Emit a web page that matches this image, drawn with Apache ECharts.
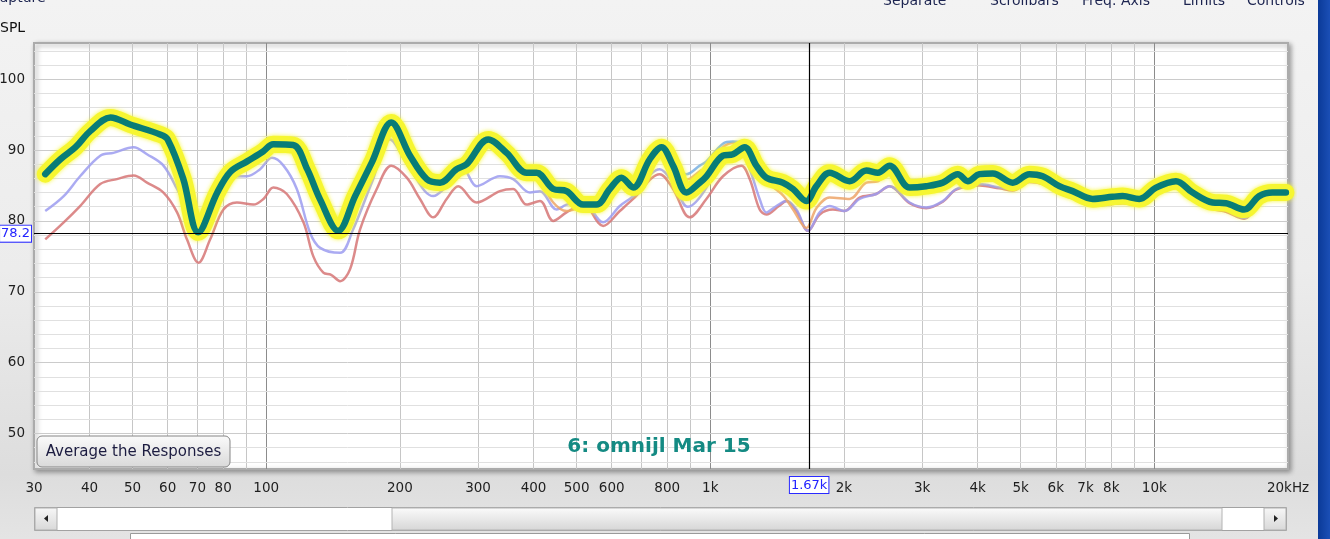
<!DOCTYPE html>
<html><head><meta charset="utf-8">
<script src="https://cdn.jsdelivr.net/npm/echarts@6/dist/echarts.min.js"></script>
<style>
html,body{margin:0;padding:0;width:1330px;height:539px;overflow:hidden;background:#ececec;}
#chart{width:1330px;height:539px;}
</style></head><body><div id="chart"></div>
<script>
// ---- data (frequency in Hz, SPL in dB) ----
const tealFreq = [31.8,34.4,37.2,40.2,44.6,49.4,57.7,60,65,70.3,77.6,83,90.6,98.4,103.7,115,123.7,132.3,145.3,158.6,173.1,191.3,210.8,229.9,246.3,268.5,282.8,316.3,347.9,385.9,406.4,443,474.7,517.4,554.5,593.9,631.1,670.5,730.8,776.6,824.6,884,947,980.4,1068,1125,1195,1270,1338,1458,1536,1646,1734,1857,2060,2246,2385,2534,2811,3064,3340,3609,3801,4039,4328,4800,5232,5606,6112,6549,7263,8055,8484,9250,10090,11188,12195,13526,14497,15937,17226,18455,19785];
const tealSpl = [86.6,88.7,90.4,92.7,94.6,93.6,92.2,91.5,86.0,78.4,84.0,86.9,88.4,89.8,90.8,90.7,87.3,83.0,78.6,83.5,88.3,93.9,89.2,85.9,85.4,87.3,88.0,91.5,89.6,86.8,86.8,84.5,84.2,82.3,82.3,84.5,86.1,84.7,88.7,90.4,87.8,84.0,85.4,86.3,89.2,89.4,90.4,87.8,86.1,85.4,84.5,82.8,84.9,86.8,85.6,87.1,86.8,87.8,84.7,84.9,85.4,86.6,85.6,86.6,86.7,85.4,86.6,86.3,84.9,84.2,83.1,83.4,83.5,83.1,84.7,85.6,84.0,82.6,82.5,81.6,83.5,84.0,84.0];
const orangeSpl = [86.4,88.5,90.2,92.4,94.3,93.3,91.9,91.2,85.7,78.3,83.7,86.6,88.1,89.5,90.5,90.4,87.0,82.7,78.4,83.2,88.0,93.6,88.9,85.6,85.1,87.0,87.7,91.2,89.3,86.5,86.3,82.6,81.4,82.0,82.4,84.2,85.8,84.6,88.5,90.2,87.9,85.8,87.0,87.6,90.4,91.0,90.8,87.8,85.6,83.6,81.6,79.0,81.8,83.3,83.1,85.4,85.6,86.9,84.2,84.4,85.0,86.2,85.2,86.2,86.3,85.0,86.2,85.9,84.5,83.8,82.7,83.0,83.1,82.7,84.3,85.2,83.6,82.2,82.1,81.1,83.1,83.6,83.6];
const lightBlueSpl = [86.8,88.9,90.6,92.9,94.8,93.8,92.4,91.7,86.3,78.5,84.2,87.1,88.6,90.0,91.0,90.9,87.5,83.2,78.7,83.7,88.5,94.1,89.4,86.1,85.6,87.5,88.2,91.7,89.8,87.0,86.9,84.2,83.6,82.5,82.6,84.8,86.3,85.0,88.9,90.6,88.1,86.6,87.8,88.4,90.9,91.2,90.8,87.6,85.6,84.8,84.0,82.6,84.7,86.5,85.3,86.8,86.5,87.4,84.4,84.6,85.1,86.3,85.3,86.3,86.4,85.1,86.3,86.0,84.6,83.9,82.8,83.1,83.2,82.8,84.4,85.3,83.7,82.3,82.2,81.2,83.2,83.7,83.7];
const lavenderFreq = [31.8,35.0,38.1,42.3,45.3,50.3,53.9,58.7,63.0,67.5,70.4,75.5,83.0,90.5,96.9,103.0,109.4,117.2,125.6,132.3,146.7,156.9,173.1,190.0,210.8,237.8,254.9,277.8,297.8,336.0,359.9,392.6,413.5,450.8,474.7,517.4,573.9,625.6,670.5,769.7,824.6,890,980,1068,1165,1227,1292,1338,1409,1484,1563,1660,1764,1857,2007,2169,2364,2534,2811,3064,3340,3579,4039,4479,4800,5232,5606,6112,6549,7263,8055,8484,9250,10090,11188,12195,13526,14497,15937,17226,18455,19785];
const lavenderSpl = [81.4,83.5,86.3,89.2,89.6,90.4,89.4,87.8,84.5,80.7,78.3,83.1,86.3,86.3,87.3,88.9,87.8,84.5,78.3,76.2,75.5,78.8,85.5,91.5,87.3,83.5,84.9,87.3,84.9,86.3,85.9,84.0,84.2,81.6,82.3,82.6,79.8,82.1,83.5,87.3,85.4,82.0,84.7,90.1,89.9,87.3,83.1,81.2,82.1,82.8,81.6,78.6,81.2,82.1,81.4,83.1,83.8,84.9,82.6,81.9,82.8,84.5,85.2,84.7,84.5,85.6,85.4,84.0,83.3,82.2,82.5,82.6,82.3,84.0,85.0,83.2,81.8,81.5,80.4,82.8,83.6,83.6];
const redFreq = [31.8,35.0,38.1,42.3,46.1,50.3,53.9,58.7,63.0,66.3,70.4,74.8,80.1,85.9,93.6,98.6,103.8,111.3,121.3,127.7,134.5,140.0,146.7,154.5,162.7,177.4,191.3,207.3,222.0,237.8,254.9,270.7,297.8,336.0,359.9,385.9,413.5,443.0,474.7,517.4,573.9,625.6,670.5,769.7,824.6,899,980,1068,1175,1227,1292,1338,1428,1484,1563,1660,1764,1889,2007,2169,2364,2534,2811,3064,3340,3579,4039,4479,4800,5232,5606,6112,6549,7263,8055,8484,9250,10090,11188,12195,13526,14497,15937,17226,18455,19785];
const redSpl = [77.4,79.8,82.1,85.2,85.9,86.4,85.4,84.0,81.2,77.4,74.1,77.4,81.6,82.6,82.3,83.1,84.7,83.8,79.8,75.0,72.7,72.4,71.5,73.2,78.8,84.5,87.8,86.1,83.1,80.5,83.1,84.9,82.6,84.2,84.5,82.3,82.8,80.0,81.2,82.3,79.3,81.4,83.1,86.6,84.5,80.5,83.1,86.3,87.8,85.9,81.6,80.9,82.1,82.8,81.4,78.6,80.9,81.6,81.4,83.3,83.8,84.9,82.5,81.8,82.7,84.4,85.0,84.6,84.3,85.5,85.2,83.9,83.2,82.1,82.4,82.5,82.2,83.9,84.9,83.1,81.7,81.3,80.3,82.7,83.5,83.5];
const xTicks = [30,40,50,60,70,80,100,200,300,400,500,600,800,1000,2000,3000,4000,5000,6000,7000,8000,10000,20000];
const xMinorGrid = [40,50,60,70,80,90,200,300,400,500,600,700,800,900,2000,3000,4000,5000,6000,7000,8000,9000];
const xMajorGrid = [100,1000,10000];
const yTicks = [50,60,70,80,90,100];
const yGrid = [46,48,50,52,54,56,58,60,62,64,66,68,70,72,74,76,78,80,82,84,86,88,90,92,94,96,98,100,102,104];
const cursorSpl = 78.2, cursorFreq = 1670;
const traceTitle = '6: omnijl Mar 15';

// ---- chart ----
const chart = echarts.init(document.getElementById('chart'));
const pair = (f, v) => f.map((x, i) => [x, v[i]]);
const FONT = '"DejaVu Sans", sans-serif';
const thin = (name, f, v, color) => ({
  type: 'line', name, data: pair(f, v), smooth: 0.35, symbol: 'none', silent: true, z: 3,
  lineStyle: { color, width: 2.5, opacity: 0.85 }
});
const fmtX = v => v === 20000 ? '20kHz' : (v >= 1000 ? (v / 1000) + 'k' : String(v));

const gridLines = [];
xMinorGrid.forEach(v => gridLines.push({ xAxis: v, lineStyle: { color: '#c6c6c6', width: 1, type: 'solid' } }));
xMajorGrid.forEach(v => gridLines.push({ xAxis: v, lineStyle: { color: '#8c8c8c', width: 1, type: 'solid' } }));
yGrid.forEach(v => gridLines.push({ yAxis: v, lineStyle: { color: (v % 10 === 0) ? '#cbcbcb' : '#e0e0e0', width: 1, type: 'solid' } }));

const boxLabel = {
  show: true, color: '#2323ff', fontSize: 13, fontFamily: FONT,
  backgroundColor: '#ffffff', borderColor: '#2a2aff', borderWidth: 1, padding: [2, 1, 1, 1]
};

const option = {
  animation: false,
  backgroundColor: {
    type: 'linear', x: 0, y: 0, x2: 0, y2: 1,
    colorStops: [{ offset: 0, color: '#f3f3f3' }, { offset: 0.5, color: '#ececec' }, { offset: 0.88, color: '#dddddd' }, { offset: 1, color: '#e4e4e4' }]
  },
  grid: {
    left: 34, right: 42, top: 43, bottom: 70, show: true, backgroundColor: '#ffffff',
    containLabel: false, outerBoundsMode: 'none',
    borderColor: '#ababab', borderWidth: 2,
    shadowColor: 'rgba(0,0,0,0.35)', shadowBlur: 5, shadowOffsetX: 2, shadowOffsetY: 2
  },
  xAxis: {
    type: 'log', logBase: 10, min: 30, max: 20000,
    axisLine: { show: false }, axisTick: { show: false }, splitLine: { show: false }, minorSplitLine: { show: false },
    axisLabel: { customValues: xTicks, formatter: fmtX, color: '#1e1e1e', fontSize: 13.5, fontFamily: FONT, margin: 12 }
  },
  yAxis: {
    type: 'value', min: 45, max: 105.1,
    axisLine: { show: false }, axisTick: { show: false }, splitLine: { show: false },
    axisLabel: { customValues: yTicks, color: '#1e1e1e', fontSize: 13.5, fontFamily: FONT, margin: 9, padding: [5, 0, 0, 0] }
  },
  series: [
    { type: 'line', name: 'grid', data: [], silent: true, z: 1,
      markLine: { silent: true, symbol: 'none', z: 1, animation: false, label: { show: false }, data: gridLines } },
    thin('red', redFreq, redSpl, '#d67676'),
    thin('lavender', lavenderFreq, lavenderSpl, '#9c9cf0'),
    thin('orange', tealFreq, orangeSpl, '#eda468'),
    thin('lightblue', tealFreq, lightBlueSpl, '#76aee8'),
    { type: 'line', name: 'glow', data: pair(tealFreq, tealSpl), smooth: 0.35, symbol: 'none', silent: true, z: 4,
      lineStyle: { color: '#f6f631', width: 17, cap: 'round', join: 'round', shadowColor: 'rgba(246,246,40,0.9)', shadowBlur: 4 } },
    { type: 'line', name: traceTitle, data: pair(tealFreq, tealSpl), smooth: 0.35, symbol: 'none', silent: true, z: 5,
      lineStyle: { color: '#087c77', width: 6.5, cap: 'round', join: 'round' },
      markLine: { silent: true, symbol: 'none', z: 10, animation: false,
        data: [
          { yAxis: cursorSpl, lineStyle: { color: '#000', width: 1.2, type: 'solid' },
            label: Object.assign({}, boxLabel, { position: 'start', distance: 3, formatter: String(cursorSpl) }) },
          { xAxis: cursorFreq, lineStyle: { color: '#000', width: 1.2, type: 'solid' },
            label: Object.assign({}, boxLabel, { position: 'start', distance: 8, formatter: '1.67k' }) }
        ] } }
  ],
  graphic: [
    { type: 'rect', x: 1318, y: 0, shape: { width: 12, height: 539 }, z: 0,
      style: { fill: { type: 'linear', x: 0, y: 0, x2: 1, y2: 0, colorStops: [{ offset: 0, color: '#0b3a98' }, { offset: 1, color: '#1b4fb6' }] } } },
    { type: 'text', x: -10, y: -2, style: { text: 'Capture', font: '14px ' + FONT, fill: '#1c2450', textVerticalAlign: 'middle', verticalAlign: 'middle' } },
    { type: 'text', x: 0, y: 28, style: { text: 'SPL', font: '14px ' + FONT, fill: '#111', textVerticalAlign: 'middle', verticalAlign: 'middle' } },
    { type: 'text', x: 883, y: 1, style: { text: 'Separate', font: '14px ' + FONT, fill: '#1c2450', textVerticalAlign: 'middle', verticalAlign: 'middle' } },
    { type: 'text', x: 990, y: 1, style: { text: 'Scrollbars', font: '14px ' + FONT, fill: '#1c2450', textVerticalAlign: 'middle', verticalAlign: 'middle' } },
    { type: 'text', x: 1082, y: 1, style: { text: 'Freq. Axis', font: '14px ' + FONT, fill: '#1c2450', textVerticalAlign: 'middle', verticalAlign: 'middle' } },
    { type: 'text', x: 1183, y: 1, style: { text: 'Limits', font: '14px ' + FONT, fill: '#1c2450', textVerticalAlign: 'middle', verticalAlign: 'middle' } },
    { type: 'text', x: 1247, y: 1, style: { text: 'Controls', font: '14px ' + FONT, fill: '#1c2450', textVerticalAlign: 'middle', verticalAlign: 'middle' } },
    // button
    { type: 'rect', x: 37, y: 436, z: 20, shape: { width: 193, height: 31, r: 5 },
      style: { stroke: '#858585', lineWidth: 1, fill: { type: 'linear', x: 0, y: 0, x2: 0, y2: 1, colorStops: [{ offset: 0, color: '#fbfbfb' }, { offset: 1, color: '#d9d9d9' }] } } },
    { type: 'text', x: 133.5, y: 452, z: 21, style: { text: 'Average the Responses', font: '15px ' + FONT, fill: '#1c1c40', textAlign: 'center', align: 'center', textVerticalAlign: 'middle', verticalAlign: 'middle' } },
    // trace title
    { type: 'text', x: 659, y: 447, z: 20, style: { text: traceTitle, font: 'bold 20px ' + FONT, fill: '#148a83', textAlign: 'center', align: 'center', textVerticalAlign: 'middle', verticalAlign: 'middle' } },
    // scrollbar
    { type: 'rect', x: 34.5, y: 507.5, shape: { width: 1252, height: 23 }, style: { fill: '#ffffff', stroke: '#a2a2a2', lineWidth: 1 } },
    { type: 'rect', x: 35, y: 508, shape: { width: 22, height: 22 }, style: { stroke: '#b0b0b0', lineWidth: 1, fill: { type: 'linear', x: 0, y: 0, x2: 0, y2: 1, colorStops: [{ offset: 0, color: '#f7f7f7' }, { offset: 1, color: '#d8d8d8' }] } } },
    { type: 'polygon', shape: { points: [[44, 518.5], [48, 515], [48, 522]] }, style: { fill: '#222' } },
    { type: 'rect', x: 392, y: 508, shape: { width: 830, height: 22 }, style: { stroke: '#b4b4b4', lineWidth: 1, fill: { type: 'linear', x: 0, y: 0, x2: 0, y2: 1, colorStops: [{ offset: 0, color: '#fbfbfb' }, { offset: 1, color: '#d6d6d6' }] } } },
    { type: 'rect', x: 1264, y: 508, shape: { width: 22, height: 22 }, style: { stroke: '#b0b0b0', lineWidth: 1, fill: { type: 'linear', x: 0, y: 0, x2: 0, y2: 1, colorStops: [{ offset: 0, color: '#f7f7f7' }, { offset: 1, color: '#d8d8d8' }] } } },
    { type: 'polygon', shape: { points: [[1278, 518.5], [1274, 515], [1274, 522]] }, style: { fill: '#222' } },
    { type: 'rect', x: 130.5, y: 533.5, shape: { width: 1059, height: 20 }, style: { fill: '#ffffff', stroke: '#9a9a9a', lineWidth: 1 } }
  ]
};
chart.setOption(option);
</script>
</body></html>
